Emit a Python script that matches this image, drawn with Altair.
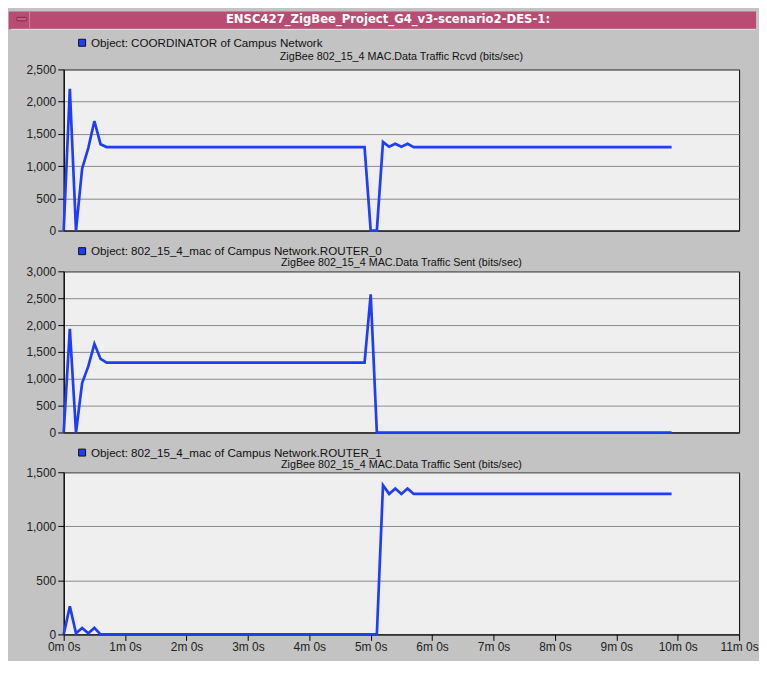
import altair as alt
import pandas as pd

# ---- data (time in minutes, values in bits/sec) ----
t_coord = [0, 0.1, 0.2, 0.3, 0.4, 0.5, 0.6, 0.7, 4.9, 5.0, 5.1, 5.2, 5.3, 5.4, 5.5, 5.6, 5.7, 9.9]
v_coord = [0, 2200, 0, 960, 1280, 1700, 1340, 1295, 1295, 0, 0, 1375, 1300, 1345, 1300, 1345, 1295, 1295]

t_r0 = [0, 0.1, 0.2, 0.3, 0.4, 0.5, 0.6, 0.7, 4.9, 5.0, 5.1, 9.9]
v_r0 = [0, 1930, 0, 920, 1230, 1650, 1370, 1300, 1300, 2570, 0, 0]

t_r1 = [0, 0.1, 0.2, 0.3, 0.4, 0.5, 0.6, 5.1, 5.2, 5.3, 5.4, 5.5, 5.6, 5.7, 9.9]
v_r1 = [0, 260, 10, 60, 10, 60, 0, 0, 1380, 1300, 1350, 1300, 1350, 1300, 1300]

legends = [
    "Object: COORDINATOR of Campus Network",
    "Object: 802_15_4_mac of Campus Network.ROUTER_0",
    "Object: 802_15_4_mac of Campus Network.ROUTER_1",
]
subtitles = [
    "ZigBee 802_15_4 MAC.Data Traffic Rcvd (bits/sec)",
    "ZigBee 802_15_4 MAC.Data Traffic Sent (bits/sec)",
    "ZigBee 802_15_4 MAC.Data Traffic Sent (bits/sec)",
]
y_max = [2500, 3000, 1500]
x_ticks = list(range(0, 12))
window_title = "ENSC427_ZigBee_Project_G4_v3-scenario2-DES-1:"

W = 679
H = 162
BLUE = "#1F3DFF"
PINK = "#B84C72"
FONT = "Liberation Sans"
one = pd.DataFrame({"a": [0]})


def panel(t, v, ymax, legend, subtitle, leg_y, sub_y, show_x):
    df = pd.DataFrame({"t": t, "v": v})
    if show_x:
        xaxis = alt.Axis(values=x_ticks, labelExpr="datum.value + 'm 0s'", tickSize=6,
                         labelPadding=1, grid=False, domainColor="black", tickColor="black",
                         labelFont=FONT, labelFontSize=12, labelColor="#222", title=None,
                         labelFlush=False, labelOverlap=False)
    else:
        xaxis = alt.Axis(labels=False, ticks=False, grid=False, domainColor="black", title=None)
    yaxis = alt.Axis(values=list(range(0, ymax + 1, 500)), format=",d", tickSize=6,
                     labelPadding=2, grid=True, gridColor="#8a8a8a", gridWidth=1,
                     domainColor="black", tickColor="black", labelFont=FONT,
                     labelFontSize=12, labelColor="#222", title=None)
    line = alt.Chart(df).mark_line(color=BLUE, strokeWidth=2.7).encode(
        x=alt.X("t:Q", scale=alt.Scale(domain=[0, 11], nice=False), axis=xaxis),
        y=alt.Y("v:Q", scale=alt.Scale(domain=[0, ymax], nice=False), axis=yaxis),
    )
    sq = alt.Chart(one).mark_point(shape="square", filled=True, size=49, fill=BLUE,
                                   stroke="#111", strokeWidth=1, opacity=1).encode(
        x=alt.value(18.5), y=alt.value(leg_y))
    leg = alt.Chart(one).mark_text(text=legend, align="left", baseline="middle", font=FONT,
                                   fontSize=11.7, color="#111").encode(
        x=alt.value(27.5), y=alt.value(leg_y))
    sub = alt.Chart(one).mark_text(text=subtitle, align="center", baseline="middle", font=FONT,
                                   fontSize=10.8, color="#111").encode(
        x=alt.value(W / 2), y=alt.value(sub_y))
    return [line, sq, leg, sub]


p1 = panel(t_coord, v_coord, y_max[0], legends[0], subtitles[0], -26.8, -12.5, False)
p2 = panel(t_r0, v_r0, y_max[1], legends[1], subtitles[1], -20.3, -8.3, False)
p3 = panel(t_r1, v_r1, y_max[2], legends[2], subtitles[2], -19.8, -7.3, True)

# window title bar (decoration of the first panel)
bar = alt.Chart(one).mark_rect(color=PINK).encode(
    x=alt.value(-55.3), x2=alt.value(W + 17), y=alt.value(-58.3), y2=alt.value(-40.3))
bar_hi = alt.Chart(one).mark_rule(color="#E4E4E4", strokeWidth=1).encode(
    x=alt.value(-53), x2=alt.value(W + 17), y=alt.value(-40.3))
bar_div = alt.Chart(one).mark_rule(color="#D47C98", strokeWidth=1).encode(
    x=alt.value(-34.3), y=alt.value(-58.3), y2=alt.value(-41))
bar_btn = alt.Chart(one).mark_rect(color="#C95C80", stroke="#7E2A48", strokeWidth=1,
                                   cornerRadius=1).encode(
    x=alt.value(-47.3), x2=alt.value(-37.3), y=alt.value(-52.3), y2=alt.value(-48.8))
bar_txt = alt.Chart(one).mark_text(text=window_title, align="center", baseline="middle",
                                   font="DejaVu Sans Condensed", fontWeight="bold",
                                   fontSize=13, color="white").encode(
    x=alt.value(326), y=alt.value(-50.5))

c1 = alt.layer(bar, bar_hi, bar_div, bar_btn, bar_txt, *p1).properties(width=W, height=H)
c2 = alt.layer(*p2).properties(width=W, height=H)
c3 = alt.layer(*p3).properties(width=W, height=H + 1)

chart = alt.vconcat(c1, c2, c3, spacing=7).properties(
    padding={"left": 0, "top": 0, "right": 0, "bottom": 6}
).configure(background="#C3C3C3").configure_view(fill="#EFEFEF", stroke="black", strokeWidth=1)

chart.save("out.html", embed_options={"renderer": "svg", "actions": False})
